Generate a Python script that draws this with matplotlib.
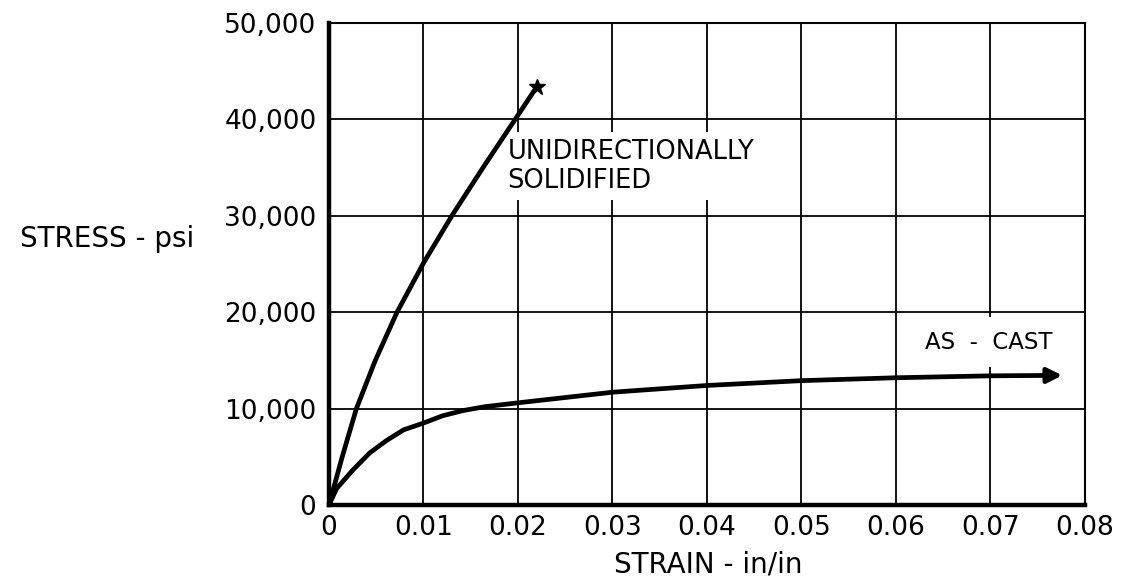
import matplotlib
matplotlib.use("Agg")
import matplotlib.pyplot as plt

# Stress-strain readings (strain in in/in, stress in psi)
unidir_strain = [0.0, 0.0014, 0.0029, 0.0049, 0.0072, 0.0100, 0.0130, 0.0163, 0.0197, 0.0220]
unidir_stress = [0, 5000, 10000, 15000, 20000, 25100, 30000, 35000, 40000, 43400]

cast_strain = [0.0, 0.0008, 0.0025, 0.0043, 0.0061, 0.0079, 0.0100, 0.0120, 0.0142, 0.0165,
               0.0200, 0.0300, 0.0400, 0.0500, 0.0600, 0.0700, 0.0776]
cast_stress = [0, 1700, 3600, 5400, 6700, 7800, 8500, 9250, 9800, 10200,
               10600, 11700, 12400, 12900, 13200, 13400, 13450]

x_ticks = [0, 0.01, 0.02, 0.03, 0.04, 0.05, 0.06, 0.07, 0.08]
x_labels = ["0", "0.01", "0.02", "0.03", "0.04", "0.05", "0.06", "0.07", "0.08"]
y_ticks = [0, 10000, 20000, 30000, 40000, 50000]
y_labels = ["0", "10,000", "20,000", "30,000", "40,000", "50,000"]

plt.rcParams["font.family"] = ["DejaVu Sans"]

fig = plt.figure(figsize=(11.24, 5.86), dpi=100)
ax = fig.add_axes([0.2927, 0.1382, 0.6726, 0.8226])

ax.set_xlim(0, 0.08)
ax.set_ylim(0, 50000)
ax.set_xticks(x_ticks)
ax.set_xticklabels(x_labels, fontsize=19)
ax.set_yticks(y_ticks)
ax.set_yticklabels(y_labels, fontsize=19)
ax.tick_params(axis="x", length=0, pad=7)
ax.tick_params(axis="y", length=0, pad=9)
ax.grid(True, color="black", linewidth=1.3, zorder=0)
ax.set_axisbelow(True)

for side in ("top", "right"):
    ax.spines[side].set_linewidth(1.5)
for side in ("left", "bottom"):
    ax.spines[side].set_linewidth(3.2)

ax.plot(unidir_strain, unidir_stress, color="black", linewidth=3.4,
        solid_capstyle="round", solid_joinstyle="round", zorder=5)
ax.plot(unidir_strain[-1], unidir_stress[-1], marker="*", color="black",
        markersize=12, zorder=6)

ax.plot(cast_strain[:-1], cast_stress[:-1], color="black", linewidth=3.4,
        solid_capstyle="round", solid_joinstyle="round", zorder=5)
ax.annotate("", xy=(cast_strain[-1], cast_stress[-1]),
            xytext=(cast_strain[-2], cast_stress[-2]),
            arrowprops=dict(arrowstyle="-|>", color="black", lw=3.4,
                            mutation_scale=22, shrinkA=0, shrinkB=0),
            zorder=5)

ax.text(0.0189, 35150, "UNIDIRECTIONALLY\nSOLIDIFIED", fontsize=18.5, ha="left",
        va="center", linespacing=1.15, zorder=3,
        bbox=dict(boxstyle="square,pad=0.25", facecolor="white", edgecolor="none"))
ax.text(0.0631, 16900, "AS  -  CAST", fontsize=16.5, ha="left", va="center", zorder=3,
        bbox=dict(boxstyle="square,pad=0.6", facecolor="white", edgecolor="none"))

fig.text(0.095, 0.592, "STRESS - psi", fontsize=20, ha="center", va="center")
fig.text(0.630, 0.036, "STRAIN - in/in", fontsize=20, ha="center", va="center")

fig.savefig("out.png", dpi=100, facecolor="white")
